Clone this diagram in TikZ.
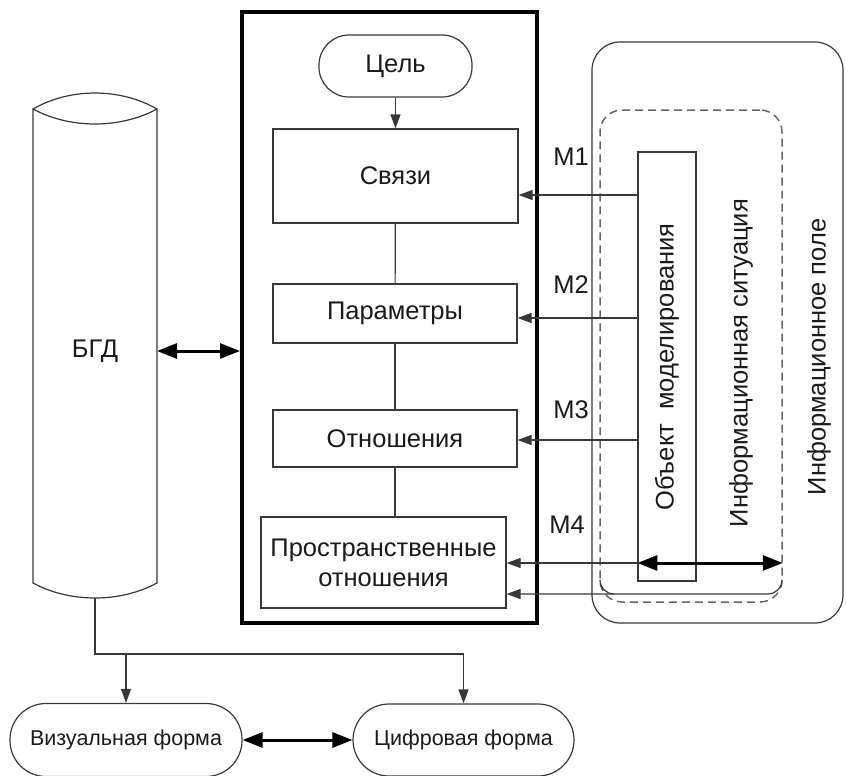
\documentclass[tikz,border=0pt]{standalone}
\usepackage{fontspec}
\setmainfont{Liberation Sans}
\usetikzlibrary{arrows.meta}
\definecolor{ln}{HTML}{383838}
\definecolor{tx}{HTML}{1A1A1A}
\definecolor{dsh}{HTML}{666666}
\begin{document}
\begin{tikzpicture}[x=1pt,y=-1pt,
  every node/.style={text=tx,font=\fontsize{25.5}{30}\selectfont},
  thinline/.style={draw=ln,line width=1.2pt},
  box/.style={thinline,rectangle,inner sep=0pt,align=center},
  pill/.style={thinline,rectangle,rounded corners=30pt,inner sep=0pt},
  formpill/.style={pill,rounded corners=36pt,font=\fontsize{21.5}{26}\selectfont},
  arr/.style={thinline,-{Triangle[length=14pt,width=10pt]}},
  dbl/.style={draw=black,line width=3pt,{Triangle[length=20pt,width=15pt]}-{Triangle[length=20pt,width=15pt]}},
  frame/.style={draw=black,line width=4pt,rectangle,inner sep=0pt},
  lbl/.style={inner sep=0pt}]
\useasboundingbox (0,0) rectangle (846,776);
% information field and situation
\node[thinline,rectangle,rounded corners=28pt,minimum width=251pt,minimum height=581pt] (field) at (717.5,332.5) {};
\node[draw=dsh,line width=1.5pt,dash pattern=on 8pt off 5pt,rectangle,rounded corners=22pt,minimum width=182pt,minimum height=492pt] (sit) at (691,356) {};
\node[box,minimum width=58pt,minimum height=429pt] (obj) at (667,366.5) {};
\node[lbl,rotate=90] (objt) at (667,367) {Объект\ \ моделирования};
\node[lbl,rotate=90] (sitt) at (741,363) {Информационная ситуация};
\node[lbl,rotate=90] (fieldt) at (819,357) {Информационное поле};
% main frame
\node[frame,minimum width=295pt,minimum height=611pt] (frame) at (389.5,317.5) {};
\node[pill,minimum width=153pt,minimum height=62pt] (goal) at (395.5,66) {Цель};
\node[box,minimum width=245pt,minimum height=94pt] (links) at (395.5,176) {Связи};
\node[box,minimum width=244pt,minimum height=59pt] (par) at (395,313.5) {Параметры};
\node[box,minimum width=244pt,minimum height=57pt] (rel) at (395,438.5) {Отношения};
\node[box,minimum width=245pt,minimum height=91pt] (prost) at (383.5,562.5) {Пространственные\\[0pt]отношения};
\draw[arr] (goal) -- (links);
\draw[thinline] (links) -- (par);
\draw[thinline] (par) -- (rel);
\draw[thinline] (rel.south) -- (rel.south |- prost.north);
% M arrows
\draw[arr] (obj.west |- 0,195) -- (links.east |- 0,195);
\draw[arr] (obj.west |- 0,318) -- (par.east |- 0,318);
\draw[arr] (obj.west |- 0,440) -- (rel.east |- 0,440);
\draw[arr] (obj.west |- 0,563) -- (prost.east |- 0,563);
\draw[dbl] (obj.west |- 0,563) -- (sit.east |- 0,563);
\coordinate (c1) at (782,580);
\draw[arr] (c1) to[out=-90,in=0] (768,594) -- (prost.east |- 0,594);
\coordinate (c2) at (600,580);
\draw[thinline] (c2) to[out=-90,in=180] (614,594);
\node[lbl] (m1) at (571,157) {M1};
\node[lbl] (m2) at (571,285) {M2};
\node[lbl] (m3) at (571,410) {M3};
\node[lbl] (m4) at (567,525) {M4};
% cylinder
\draw[thinline] (33,109) .. controls (70,87.7) and (120,87.7) .. (157,109)
  .. controls (120,129) and (70,129) .. (33,109) -- (33,583)
  .. controls (70,603) and (120,603) .. (157,583) -- (157,109);
\node[lbl] (bgd) at (95,351) {БГД};
\coordinate (cylR) at (157,351);
\coordinate (cylB) at (95,598);
\draw[dbl] (cylR) -- (frame.west |- cylR);
% bottom forms
\node[formpill,minimum width=232pt,minimum height=73pt] (viz) at (126,740) {Визуальная форма};
\node[formpill,minimum width=221pt,minimum height=72pt] (cif) at (463.5,740) {Цифровая форма};
\coordinate (j) at (95,654);
\draw[arr] (cylB) -- (j) -| (cif.north);
\draw[arr] (viz.north |- j) -- (viz.north);
\draw[dbl] (viz) -- (cif);
\end{tikzpicture}
\end{document}
